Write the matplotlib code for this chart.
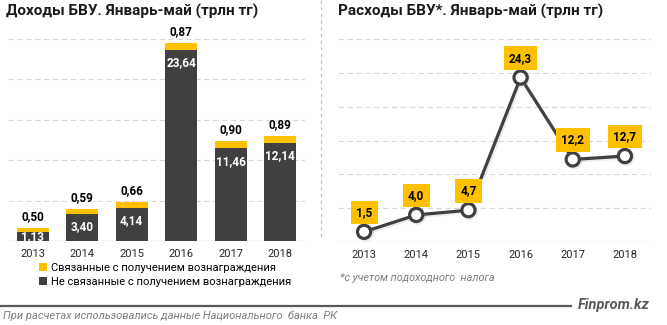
import matplotlib.pyplot as plt
import matplotlib.patheffects as pe
from matplotlib.lines import Line2D
import numpy as np

plt.rcParams['font.family'] = ['Roboto', 'DejaVu Sans']

YEARS = ["2013", "2014", "2015", "2016", "2017", "2018"]
INCOME_REWARD = [0.50, 0.59, 0.66, 0.87, 0.90, 0.89]
INCOME_OTHER = [1.13, 3.40, 4.14, 23.64, 11.46, 12.14]
EXPENSES = [1.5, 4.0, 4.7, 24.3, 12.2, 12.7]

LEGEND_LABELS = ["Связанные с получением вознаграждения",
                 "Не связанные с получением вознаграждения"]

YELLOW = "#FFC000"
DARK = "#404040"
GRID = "#D9D9D9"

W, H = 667, 325


def fx(px):
    return px / W


def fy(py):
    return 1 - py / H


def ru(v, nd):
    return f"{v:.{nd}f}".replace(".", ",")


def style_axes(ax, ymax, step):
    for s in ax.spines.values():
        s.set_visible(False)
    ax.set_ylim(0, ymax)
    ax.set_yticks([])
    for g in np.arange(step, ymax + 0.01, step):
        ax.axhline(g, color=GRID, lw=0.8, ls=(0, (5, 3)), zorder=0)
    ax.axhline(0, color=GRID, lw=1.0, zorder=1)
    ax.set_xlim(-0.5, len(YEARS) - 0.5)
    ax.set_xticks(range(len(YEARS)))
    ax.set_xticklabels(YEARS, fontsize=8, color="#262626")
    ax.tick_params(axis="x", length=0, pad=6)


fig = plt.figure(figsize=(W / 100, H / 100), dpi=100)

# left: income, stacked bars
ax1 = fig.add_axes([fx(8), fy(241), fx(297), (241 - 39) / H])
style_axes(ax1, 25, 5)
x = np.arange(len(YEARS))
b_other = ax1.bar(x, INCOME_OTHER, width=0.65, color=DARK, zorder=2,
                  label=LEGEND_LABELS[1])
b_rew = ax1.bar(x, INCOME_REWARD, width=0.65, bottom=INCOME_OTHER, color=YELLOW,
                zorder=2, label=LEGEND_LABELS[0])
for i in range(len(YEARS)):
    top = INCOME_OTHER[i] + INCOME_REWARD[i]
    ax1.annotate(ru(INCOME_REWARD[i], 2), (i, top), xytext=(0, 8),
                 textcoords="offset points", ha="center", va="center",
                 fontsize=8.5, fontweight="bold", color="black")
    v = INCOME_OTHER[i]
    if v > 3:
        ax1.annotate(ru(v, 2), (i, v), xytext=(0, -9.4),
                     textcoords="offset points", ha="center", va="center",
                     fontsize=8.5, fontweight="bold", color="white", zorder=3)
    else:
        ax1.text(i, v / 2, ru(v, 2), ha="center", va="center",
                 fontsize=8.5, fontweight="bold", color="white", zorder=3)

fig.legend(handles=[b_rew, b_other], labels=LEGEND_LABELS, loc="upper left",
           bbox_to_anchor=(fx(39), fy(263)), frameon=False, fontsize=8,
           handlelength=0.7, handleheight=0.7, handletextpad=0.4,
           labelspacing=0.35, borderaxespad=0, borderpad=0)

# right: expenses line
ax2 = fig.add_axes([fx(338), fy(242), fx(313), (242 - 39) / H])
style_axes(ax2, 30, 5)
ax2.plot(x, EXPENSES, color=DARK, lw=2.3, marker="o", ms=9.5,
         mfc="white", mec=DARK, mew=2.3, zorder=3, clip_on=False,
         path_effects=[pe.SimpleLineShadow(offset=(1.2, -1.2), alpha=0.15,
                                           shadow_color="#808080"),
                       pe.Normal()])
for i, v in enumerate(EXPENSES):
    ax2.annotate(ru(v, 1), (i, v), xytext=(0, 14), textcoords="offset points",
                 ha="center", va="center", fontsize=8.5, fontweight="bold",
                 color="black", zorder=4,
                 bbox=dict(boxstyle="square,pad=0.45", fc=YELLOW, ec="none"))

# titles and notes
fig.text(fx(6), fy(11), "Доходы БВУ. Январь-май (трлн тг)", fontsize=11,
         fontweight="bold", color="#1a1a1a", va="center", ha="left")
fig.text(fx(338), fy(11), "Расходы БВУ*. Январь-май (трлн тг)", fontsize=11,
         fontweight="bold", color="#1a1a1a", va="center", ha="left")
fig.text(fx(340), fy(278), "*с учетом подоходного  налога", fontsize=7.8,
         style="italic", color="#7F7F7F", va="center", ha="left")

fig.add_artist(Line2D([fx(321), fx(321)], [fy(0), fy(237)], color="#BFBFBF",
                      lw=0.8, ls=(0, (3, 3))))
fig.add_artist(Line2D([0, fx(571)], [fy(306), fy(306)], color="#595959", lw=1.6))
fig.text(fx(650), fy(305), "Finprom.kz", fontsize=10.5, style="italic",
         fontweight="bold", color="#595959", va="center", ha="right")
fig.text(fx(3), fy(316), "При расчетах использовались данные Национального  банка  РК",
         fontsize=8, style="italic", color="#7F7F7F", va="center", ha="left")

fig.savefig("out.png", dpi=100)
